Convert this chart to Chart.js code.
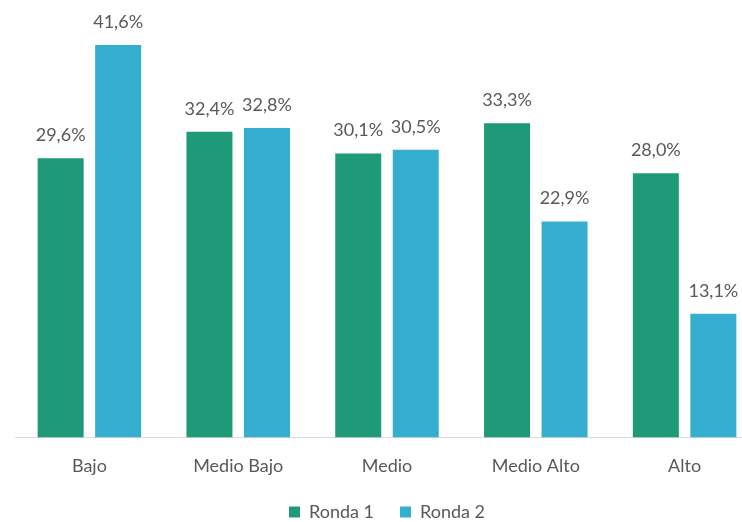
<!DOCTYPE html>
<html lang="es">
<head>
  <meta charset="UTF-8" />
  <title>Ronda 1 vs Ronda 2</title>
  <script src="https://cdn.jsdelivr.net/npm/chart.js"></script>
  <style>
    html, body { margin: 0; padding: 0; background: #fff; overflow: hidden; }
    #wrap { position: relative; width: 774px; height: 522px; }
  </style>
</head>
<body>
  <div id="wrap"><canvas id="chart"></canvas></div>

  <script>
    const categories = ['Bajo', 'Medio Bajo', 'Medio', 'Medio Alto', 'Alto'];
    const ronda1 = [29.6, 32.4, 30.1, 33.3, 28.0];
    const ronda2 = [41.6, 32.8, 30.5, 22.9, 13.1];
    const seriesNames = ['Ronda 1', 'Ronda 2'];

    const FONT = 'Lato, "Open Sans", sans-serif';
    const TEXT = '#595959';

    // value labels on top of each bar, "41,6%" style
    const valueLabels = {
      id: 'valueLabels',
      afterDatasetsDraw(chart) {
        const ctx = chart.ctx;
        ctx.save();
        ctx.font = '18px ' + FONT;
        ctx.fillStyle = TEXT;
        ctx.textAlign = 'center';
        ctx.textBaseline = 'bottom';
        chart.data.datasets.forEach((ds, i) => {
          chart.getDatasetMeta(i).data.forEach((bar, j) => {
            const txt = ds.data[j].toFixed(1).replace('.', ',') + '%';
            ctx.fillText(txt, bar.x, bar.y - 14);
          });
        });
        ctx.restore();
      }
    };

    new Chart(document.getElementById('chart'), {
      type: 'bar',
      data: {
        labels: categories,
        datasets: [
          { label: seriesNames[0], data: ronda1, backgroundColor: '#1F9A78' },
          { label: seriesNames[1], data: ronda2, backgroundColor: '#35AECF' }
        ]
      },
      options: {
        responsive: true,
        maintainAspectRatio: false,
        animation: false,
        categoryPercentage: 0.773,
        barPercentage: 0.8,
        layout: { padding: { top: 13, left: 15, right: 15, bottom: -9 } },
        scales: {
          x: {
            grid: { display: false, drawTicks: false },
            border: { display: true, color: '#d9d9d9', width: 1 },
            ticks: { color: TEXT, font: { family: FONT, size: 18 }, padding: 18 }
          },
          y: {
            display: false,
            min: 0,
            max: 45
          }
        },
        plugins: {
          legend: {
            position: 'bottom',
            labels: {
              color: TEXT,
              font: { family: FONT, size: 18 },
              boxWidth: 11,
              boxHeight: 11,
              padding: 8,
              // wider gap between the two items, like the original
              generateLabels(chart) {
                const items = Chart.defaults.plugins.legend.labels.generateLabels(chart);
                items.forEach((it, i) => {
                  if (i < items.length - 1) it.text += '\u2002\u2002';
                });
                return items;
              }
            }
          },
          tooltip: { enabled: false }
        }
      },
      plugins: [valueLabels]
    });
  </script>
</body>
</html>
